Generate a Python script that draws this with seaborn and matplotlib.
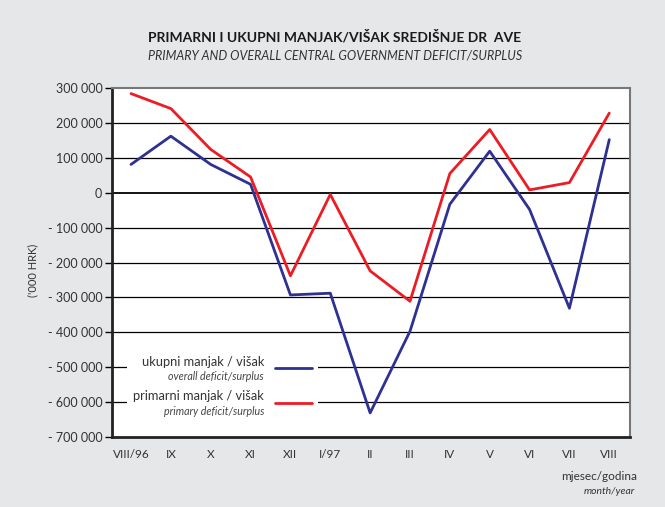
import numpy as np
import pandas as pd
import matplotlib
matplotlib.use("Agg")
import matplotlib.pyplot as plt
import seaborn as sns
from matplotlib.patches import Rectangle
from matplotlib.lines import Line2D

months = ["VIII/96", "IX", "X", "XI", "XII", "I/97", "II", "III", "IV", "V", "VI", "VII", "VIII"]
overall = [81000, 162000, 81000, 24000, -293000, -288000, -631000, -397000, -33000, 119000, -48000, -331000, 152000]
primary = [284000, 241000, 124000, 45000, -238000, -5000, -224000, -311000, 55000, 181000, 8000, 29000, 228000]
yticks = list(range(300000, -700001, -100000))

sns.set_theme(style="white")
plt.rcParams['font.family'] = ['Lato', 'DejaVu Sans']

BG = '#e6e7e8'
BLUE = '#2e3192'
RED = '#ed1c24'
W, H = 665, 507

fig = plt.figure(figsize=(6.65, 5.07), dpi=100, facecolor=BG)

def fx(x):
    return x / W

def fy(y):
    return 1 - y / H

ax = fig.add_axes([fx(112), fy(437), fx(630) - fx(112), fy(88) - fy(437)])
ax.set_facecolor('white')

df = pd.DataFrame({
    'idx': list(range(len(months))) * 2,
    'value': overall + primary,
    'series': ['overall'] * len(months) + ['primary'] * len(months),
})

for v in yticks[1:-1]:
    ax.axhline(v, color='black', lw=0.9 if v != 0 else 1.3, zorder=1)

sns.lineplot(data=df, x='idx', y='value', hue='series',
             palette={'overall': BLUE, 'primary': RED},
             linewidth=2.0, legend=False, ax=ax, zorder=4)

ax.set_ylim(-700000, 300000)
ax.set_xlim(-0.477, 12.52)
ax.set_yticks(yticks)

def fmt(v):
    if v == 0:
        return "0"
    s = f"{abs(v):,}".replace(",", " ")
    return ("- " if v < 0 else "") + s

ax.set_yticklabels([fmt(v) for v in yticks], fontsize=9, color='#333333')
ax.set_xticks(np.arange(len(months)))
ax.set_xticklabels(months, fontsize=8.5, color='#333333')
ax.tick_params(axis='y', which='both', left=True, length=5, width=1, color='black', pad=2)
ax.tick_params(axis='x', length=0, pad=9)
ax.set_xlabel("")
ax.set_ylabel("")

for side in ['left', 'bottom']:
    ax.spines[side].set_color('#222222')
    ax.spines[side].set_linewidth(2.0)
for side in ['top', 'right']:
    ax.spines[side].set_color('#777777')
    ax.spines[side].set_linewidth(1.5)

# legend box (white, interrupts gridlines)
fig.patches.append(Rectangle((fx(127), fy(420)), fx(318) - fx(127), fy(345) - fy(420),
                             transform=fig.transFigure, facecolor='white',
                             edgecolor='none', zorder=3))
ax.set_zorder(1)

fig.text(fx(264), fy(362), "ukupni manjak / višak", ha='right', va='center',
         fontsize=9.3, color='#333333', zorder=5)
fig.text(fx(264), fy(377), "overall deficit/surplus", ha='right', va='center',
         fontsize=7.7, style='italic', color='#444444', zorder=5)
fig.text(fx(264), fy(396), "primarni manjak / višak", ha='right', va='center',
         fontsize=9.3, color='#333333', zorder=5)
fig.text(fx(264), fy(411.5), "primary deficit/surplus", ha='right', va='center',
         fontsize=7.7, style='italic', color='#444444', zorder=5)
fig.lines.append(Line2D([fx(275), fx(312)], [fy(368.3), fy(368.3)], transform=fig.transFigure,
                        color=BLUE, lw=2.0, zorder=5))
fig.lines.append(Line2D([fx(275), fx(312)], [fy(403.3), fy(403.3)], transform=fig.transFigure,
                        color=RED, lw=2.0, zorder=5))

fig.text(fx(335), fy(37), "PRIMARNI I UKUPNI MANJAK/VIŠAK SREDIŠNJE DR  AVE", ha='center', va='center',
         fontsize=10, fontweight='bold', color='#1a1a1a')
fig.text(fx(335), fy(56), "PRIMARY AND OVERALL CENTRAL GOVERNMENT DEFICIT/SURPLUS", ha='center', va='center',
         fontsize=9, style='italic', color='#333333')

fig.text(fx(33), fy(270), "('000 HRK)", rotation=90, ha='center', va='center',
         fontsize=8, color='#333333')

fig.text(fx(637), fy(477), "mjesec/godina", ha='right', va='center', fontsize=8.5, color='#333333')
fig.text(fx(635), fy(492), "month/year", ha='right', va='center', fontsize=7.5, style='italic', color='#333333')

fig.savefig("out.png", dpi=100, facecolor=BG)
